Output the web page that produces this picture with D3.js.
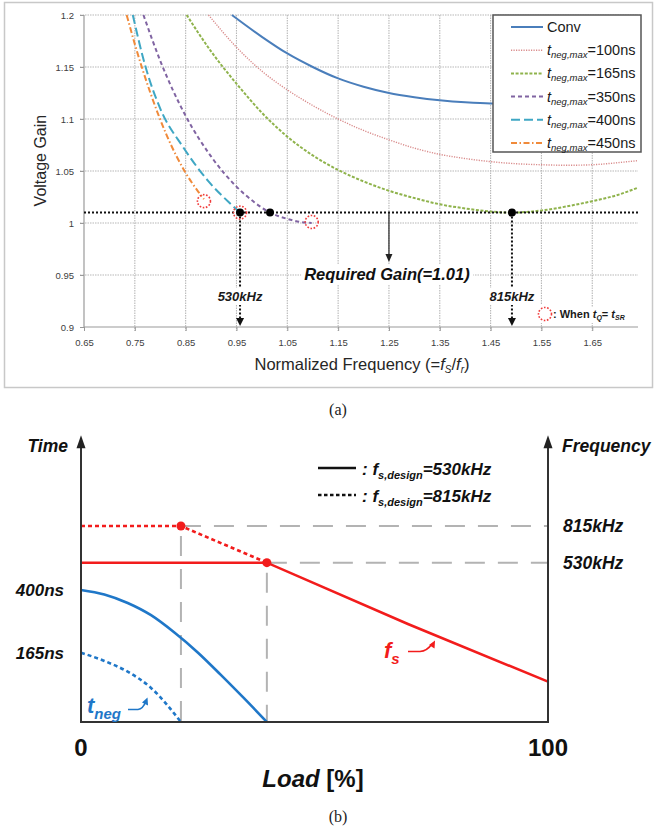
<!DOCTYPE html>
<html>
<head>
<meta charset="utf-8">
<script src="https://cdn.jsdelivr.net/npm/d3@7"></script>
<style>
  body { margin: 0; background: #fff; }
  svg { display: block; }
</style>
</head>
<body>
<svg id="fig" width="657" height="830"></svg>
<script>
// ---------------- Panel (a): voltage gain vs. normalized frequency ----------------
const freqTicks = [0.65, 0.75, 0.85, 0.95, 1.05, 1.15, 1.25, 1.35, 1.45, 1.55, 1.65];
const freqTickLabels = ["0.65", "0.75", "0.85", "0.95", "1.05", "1.15", "1.25", "1.35", "1.45", "1.55", "1.65"];
const gainTicks = [0.9, 0.95, 1, 1.05, 1.1, 1.15, 1.2];
const gainTickLabels = ["0.9", "0.95", "1", "1.05", "1.1", "1.15", "1.2"];

// [normalized frequency, voltage gain]
const convGain = [[0.941, 1.2], [1.0, 1.179], [1.05, 1.163], [1.1, 1.150], [1.15, 1.139], [1.2, 1.131],
  [1.25, 1.125], [1.3, 1.121], [1.35, 1.118], [1.4, 1.116], [1.45, 1.115], [1.5, 1.115]];
const gain100 = [[0.895, 1.2], [0.95, 1.169], [1.0, 1.146], [1.05, 1.128], [1.1, 1.113], [1.15, 1.100],
  [1.2, 1.089], [1.25, 1.080], [1.3, 1.072], [1.35, 1.066], [1.4, 1.062], [1.45, 1.059], [1.5, 1.057],
  [1.55, 1.056], [1.6, 1.0555], [1.65, 1.056], [1.7, 1.058], [1.74, 1.06]];
const gain165 = [[0.852, 1.2], [0.9, 1.165], [0.95, 1.134], [1.0, 1.106], [1.05, 1.083], [1.1, 1.065],
  [1.15, 1.051], [1.2, 1.040], [1.25, 1.031], [1.3, 1.024], [1.35, 1.018], [1.4, 1.014], [1.45, 1.011],
  [1.49, 1.010], [1.55, 1.012], [1.6, 1.016], [1.65, 1.021], [1.7, 1.027], [1.74, 1.034]];
const gain350 = [[0.767, 1.2], [0.8, 1.156], [0.85, 1.103], [0.9, 1.064], [0.95, 1.035], [0.985, 1.020],
  [1.016, 1.010], [1.05, 1.004], [1.075, 1.001], [1.098, 1.0]];
const gain400 = [[0.746, 1.2], [0.77, 1.152], [0.8, 1.11], [0.845, 1.073], [0.895, 1.04], [0.937, 1.019], [0.957, 1.01]];
const gain450 = [[0.734, 1.2], [0.75, 1.172], [0.78, 1.126], [0.813, 1.084], [0.849, 1.049], [0.875, 1.03], [0.886, 1.023]];

const legendNames = ["Conv", "100ns", "165ns", "350ns", "400ns", "450ns"];
const seriesColors = ["#4a7ebb", "#d98c8c", "#8fb34c", "#8064a2", "#3fa7c4", "#f08a3a"];
const seriesDash = [null, "1.2,1.3", "3,1.6", "4,3", "9,4", "6,2.5,1.5,2.5"];
const seriesWidth = [2, 1.4, 2, 2, 2, 2];
const gainSeries = [convGain, gain100, gain165, gain350, gain400, gain450];

const requiredGain = 1.01;
const designPoints = [[0.957, 1.01], [1.016, 1.01], [1.492, 1.01]];   // intersections with required gain
const tqEqualsTsr = [[0.886, 1.021], [0.957, 1.01], [1.098, 1.001]];  // t_Q = t_SR markers
const freqMarkers = [{ f: 0.957, label: "530kHz" }, { f: 1.492, label: "815kHz" }];

// ---------------- Panel (b): t_neg and f_s vs. load ----------------
const loadTicks = [0, 100];
// [load %, relative level on the schematic axis]
const tnegAt530 = [[0, 0.465], [5, 0.449], [10, 0.419], [15, 0.376], [20, 0.315], [25, 0.245],
  [30, 0.165], [35, 0.082], [39.8, 0]];
const tnegAt815 = [[0, 0.244], [5, 0.215], [10, 0.177], [15, 0.12], [21.4, 0]];
const fsAt530 = [[0, 0.561], [39.8, 0.561], [70, 0.345], [100, 0.142]];
const fsAt815 = [[0, 0.69], [21.4, 0.69], [39.8, 0.561]];
const timeTicks = [{ label: "400ns", level: 0.465 }, { label: "165ns", level: 0.244 }];
const freqLevels = [{ label: "815kHz", level: 0.69, knee: 21.4 }, { label: "530kHz", level: 0.561, knee: 39.8 }];

const svg = d3.select("#fig");
const FONT = "'Liberation Sans', Arial, sans-serif";

// =========================== Panel (a) ===========================
const pa = svg.append("g");
pa.append("rect").attr("x", 4.5).attr("y", 2.5).attr("width", 648).attr("height", 385)
  .attr("fill", "#fff").attr("stroke", "#c8c8c8").attr("stroke-width", 1.5);

const x = d3.scaleLinear().domain([0.65, 1.74]).range([84, 638]);
const y = d3.scaleLinear().domain([0.9, 1.2]).range([327, 15]);

pa.append("defs").append("clipPath").attr("id", "plotClip")
  .append("rect").attr("x", x(0.65)).attr("y", y(1.2) - 1).attr("width", x(1.74) - x(0.65)).attr("height", y(0.9) - y(1.2) + 1);

// grid
const grid = pa.append("g").attr("stroke", "#b8b8b8").attr("stroke-width", 1.1).attr("stroke-dasharray", "1.5,1");
grid.selectAll("line.v").data(freqTicks.slice(1)).join("line")
  .attr("x1", d => x(d)).attr("x2", d => x(d)).attr("y1", y(1.2)).attr("y2", y(0.9) + 4);
grid.selectAll("line.h").data(gainTicks.slice(1)).join("line")
  .attr("x1", x(0.65) - 4).attr("x2", x(1.74)).attr("y1", d => y(d)).attr("y2", d => y(d));

// axes
const axisX = d3.axisBottom(x).tickValues(freqTicks).tickFormat((d, i) => freqTickLabels[i]).tickSize(4).tickPadding(8);
const axisY = d3.axisLeft(y).tickValues(gainTicks).tickFormat((d, i) => gainTickLabels[i]).tickSize(4).tickPadding(6);
const gx = pa.append("g").attr("transform", `translate(0,${y(0.9)})`).call(axisX);
const gy = pa.append("g").attr("transform", `translate(${x(0.65)},0)`).call(axisY);
[gx, gy].forEach(g => {
  g.select(".domain").attr("stroke", "#9a9a9a").attr("stroke-width", 1.2);
  g.selectAll(".tick line").attr("stroke", "#9a9a9a");
  g.selectAll(".tick text").attr("font-family", FONT).attr("font-size", 9.5).attr("fill", "#404040");
});
gx.select(".domain").attr("d", `M${x(0.65)},0H${x(1.74)}`);
gy.select(".domain").attr("d", `M0,${y(0.9)}V${y(1.2)}`);

// axis titles
pa.append("text").attr("transform", `translate(40,${y(1.06)}) rotate(-90)`)
  .attr("text-anchor", "middle").attr("dominant-baseline", "central")
  .attr("font-family", FONT).attr("font-size", 16).attr("fill", "#262626").text("Voltage Gain");
const xt = pa.append("text").attr("x", 362).attr("y", 370).attr("text-anchor", "middle")
  .attr("font-family", FONT).attr("font-size", 16.5).attr("fill", "#262626");
xt.append("tspan").text("Normalized  Frequency  (=");
xt.append("tspan").attr("font-style", "italic").text("f");
xt.append("tspan").attr("font-style", "italic").attr("font-size", 10).attr("dy", 3).text("S");
xt.append("tspan").attr("dy", -3).text("/");
xt.append("tspan").attr("font-style", "italic").text("f");
xt.append("tspan").attr("font-style", "italic").attr("font-size", 10).attr("dy", 3).text("r");
xt.append("tspan").attr("dy", -3).text(")");

// gain curves
const line = d3.line().x(d => x(d[0])).y(d => y(d[1])).curve(d3.curveMonotoneX);
const curves = pa.append("g").attr("clip-path", "url(#plotClip)");
gainSeries.forEach((s, i) => {
  curves.append("path").datum(s).attr("d", line).attr("fill", "none")
    .attr("stroke", seriesColors[i]).attr("stroke-width", seriesWidth[i])
    .attr("stroke-dasharray", seriesDash[i]);
});

// required gain line
pa.append("line").attr("x1", x(0.65)).attr("x2", x(1.74)).attr("y1", y(requiredGain)).attr("y2", y(requiredGain))
  .attr("stroke", "#111").attr("stroke-width", 2).attr("stroke-dasharray", "2,2");

// small downward arrowhead
function arrowDown(g, cx, tipY, w, h, color) {
  g.append("path").attr("d", `M${cx - w / 2},${tipY - h}L${cx + w / 2},${tipY - h}L${cx},${tipY}Z`).attr("fill", color);
}
// white box behind a text element
function backWhite(g, textSel, pad) {
  const b = textSel.node().getBBox();
  g.insert("rect", () => textSel.node()).attr("x", b.x - pad).attr("y", b.y - 1).attr("width", b.width + 2 * pad)
    .attr("height", b.height + 2).attr("fill", "#fff");
}

// frequency drop lines
freqMarkers.forEach(m => {
  const gm = pa.append("g");
  gm.append("line").attr("x1", x(m.f)).attr("x2", x(m.f)).attr("y1", y(requiredGain)).attr("y2", y(0.9) - 7)
    .attr("stroke", "#111").attr("stroke-width", 2).attr("stroke-dasharray", "2,2");
  arrowDown(gm, x(m.f), y(0.9) - 1, 8, 8, "#111");
  const t = gm.append("text").attr("x", x(m.f)).attr("y", 301).attr("text-anchor", "middle")
    .attr("font-family", FONT).attr("font-weight", "bold").attr("font-style", "italic").attr("font-size", 13)
    .attr("fill", "#1a1a1a").text(m.label);
  backWhite(gm, t, 1);
});

// required gain annotation
const gr = pa.append("g");
gr.append("line").attr("x1", x(1.25)).attr("x2", x(1.25)).attr("y1", y(requiredGain)).attr("y2", 255)
  .attr("stroke", "#222").attr("stroke-width", 1.2);
arrowDown(gr, x(1.25), 262, 7, 8, "#222");
const rt = gr.append("text").attr("x", x(1.25) - 2).attr("y", 280).attr("text-anchor", "middle")
  .attr("font-family", FONT).attr("font-weight", "bold").attr("font-style", "italic").attr("font-size", 16.5)
  .attr("fill", "#111").text("Required Gain(=1.01)");
backWhite(gr, rt, 3);

// markers
pa.selectAll("circle.dp").data(designPoints).join("circle")
  .attr("cx", d => x(d[0])).attr("cy", d => y(d[1])).attr("r", 4).attr("fill", "#000");
pa.selectAll("circle.tq").data(tqEqualsTsr).join("circle")
  .attr("cx", d => x(d[0])).attr("cy", d => y(d[1])).attr("r", 6.5).attr("fill", "none")
  .attr("stroke", "#f03c3c").attr("stroke-width", 1.6).attr("stroke-dasharray", "1.6,1.6");

// note in lower right
const note = pa.append("g");
const nt = note.append("text").attr("x", 553).attr("y", 318).attr("font-family", FONT)
  .attr("font-weight", "bold").attr("font-size", 11).attr("fill", "#1a1a1a");
nt.append("tspan").text(": When ");
nt.append("tspan").attr("font-style", "italic").text("t");
nt.append("tspan").attr("font-style", "italic").attr("font-size", 7).attr("dy", 2).text("Q");
nt.append("tspan").attr("dy", -2).text("= ");
nt.append("tspan").attr("font-style", "italic").text("t");
nt.append("tspan").attr("font-style", "italic").attr("font-size", 7).attr("dy", 2).text("SR");
backWhite(note, nt, 1);
note.append("rect").attr("x", 536).attr("y", 305).attr("width", 17).attr("height", 18).attr("fill", "#fff");
note.append("circle").attr("cx", 545).attr("cy", 314).attr("r", 6.5).attr("fill", "none")
  .attr("stroke", "#f03c3c").attr("stroke-width", 1.6).attr("stroke-dasharray", "1.6,1.6");

// legend
const lg = pa.append("g");
lg.append("rect").attr("x", 493).attr("y", 15).attr("width", 148).attr("height", 137)
  .attr("fill", "#fff").attr("stroke", "#555").attr("stroke-width", 1.5);
legendNames.forEach((name, i) => {
  const ly = 27 + i * 23.2;
  lg.append("line").attr("x1", 511).attr("x2", 543).attr("y1", ly).attr("y2", ly)
    .attr("stroke", seriesColors[i]).attr("stroke-width", seriesWidth[i]).attr("stroke-dasharray", seriesDash[i]);
  const t = lg.append("text").attr("x", 547).attr("y", ly + 5).attr("font-family", FONT)
    .attr("font-size", 14.5).attr("fill", "#1a1a1a");
  if (i === 0) {
    t.text(name);
  } else {
    t.append("tspan").attr("font-style", "italic").text("t");
    t.append("tspan").attr("font-style", "italic").attr("font-size", 9.5).attr("dy", 3).text("neg,max");
    t.append("tspan").attr("dy", -3).text("=" + name);
  }
});

pa.append("text").attr("x", 338).attr("y", 415).attr("text-anchor", "middle")
  .attr("font-family", "'Liberation Serif', 'Times New Roman', serif").attr("font-size", 16).attr("fill", "#222").text("(a)");

// =========================== Panel (b) ===========================
const pb = svg.append("g");
const xb = d3.scaleLinear().domain([0, 100]).range([81, 548]);
const yb = d3.scaleLinear().domain([0, 1]).range([722, 438]);
const BI = g => g.attr("font-family", FONT).attr("font-weight", "bold").attr("font-style", "italic");

// guide lines
const guide = pb.append("g").attr("stroke", "#b3b3b3").attr("stroke-width", 2).attr("stroke-dasharray", "20,13");
freqLevels.forEach(f => {
  guide.append("line").attr("x1", xb(f.knee)).attr("x2", xb(100)).attr("y1", yb(f.level)).attr("y2", yb(f.level));
  guide.append("line").attr("x1", xb(f.knee)).attr("x2", xb(f.knee)).attr("y1", yb(f.level) + 10).attr("y2", yb(0));
});

// curves
const smoothB = d3.line().x(d => xb(d[0])).y(d => yb(d[1])).curve(d3.curveMonotoneX);
const straightB = d3.line().x(d => xb(d[0])).y(d => yb(d[1]));
pb.append("path").datum(tnegAt530).attr("d", smoothB).attr("fill", "none")
  .attr("stroke", "#1f77c8").attr("stroke-width", 2.6);
pb.append("path").datum(tnegAt815).attr("d", smoothB).attr("fill", "none")
  .attr("stroke", "#1f77c8").attr("stroke-width", 2.6).attr("stroke-dasharray", "4,3");
pb.append("path").datum(fsAt530).attr("d", straightB).attr("fill", "none")
  .attr("stroke", "#f21c1c").attr("stroke-width", 2.6);
pb.append("path").datum(fsAt815).attr("d", straightB).attr("fill", "none")
  .attr("stroke", "#f21c1c").attr("stroke-width", 2.6).attr("stroke-dasharray", "4,3");
pb.selectAll("circle.knee").data(freqLevels).join("circle")
  .attr("cx", d => xb(d.knee)).attr("cy", d => yb(d.level)).attr("r", 4.5).attr("fill", "#f21c1c");

// axes frame with arrows
const ax = pb.append("g").attr("stroke", "#333").attr("stroke-width", 2).attr("fill", "none");
ax.append("path").attr("d", `M${xb(0)},${yb(0.99)}V${yb(0)}H${xb(100)}V${yb(0.99)}`);
[0, 100].forEach(v => {
  pb.append("path").attr("d", `M${xb(v)},${yb(1.01)}l-4.5,13h9z`).attr("fill", "#222");
});

// axis labels
BI(pb.append("text")).attr("x", 68).attr("y", 452).attr("text-anchor", "end").attr("font-size", 17.5)
  .attr("fill", "#111").text("Time");
BI(pb.append("text")).attr("x", 562).attr("y", 452).attr("font-size", 17.5).attr("fill", "#111").text("Frequency");
timeTicks.forEach(t => {
  BI(pb.append("text")).attr("x", 64).attr("y", yb(t.level) + 6).attr("text-anchor", "end")
    .attr("font-size", 17).attr("fill", "#111").text(t.label);
});
freqLevels.forEach(f => {
  BI(pb.append("text")).attr("x", 563).attr("y", yb(f.level) + 6).attr("font-size", 17.5)
    .attr("fill", "#111").text(f.label);
});
loadTicks.forEach(v => {
  pb.append("text").attr("x", xb(v)).attr("y", 756).attr("text-anchor", "middle").attr("font-family", FONT)
    .attr("font-weight", "bold").attr("font-size", 24).attr("fill", "#111").text(v);
});
const lt = pb.append("text").attr("x", 313).attr("y", 787).attr("text-anchor", "middle").attr("font-family", FONT)
  .attr("font-weight", "bold").attr("font-size", 24).attr("fill", "#111");
lt.append("tspan").attr("font-style", "italic").text("Load");
lt.append("tspan").text(" [%]");

// legend
const lgb = pb.append("g");
lgb.append("line").attr("x1", 318).attr("x2", 356).attr("y1", 468).attr("y2", 468).attr("stroke", "#111").attr("stroke-width", 2.6);
lgb.append("line").attr("x1", 318).attr("x2", 356).attr("y1", 495).attr("y2", 495).attr("stroke", "#111").attr("stroke-width", 2.6)
  .attr("stroke-dasharray", "3.5,2.5");
["530kHz", "815kHz"].forEach((v, i) => {
  const t = BI(lgb.append("text")).attr("x", 362).attr("y", 475 + i * 27).attr("font-size", 17).attr("fill", "#111");
  t.append("tspan").text(": f");
  t.append("tspan").attr("font-size", 11).attr("dy", 4).text("s,design");
  t.append("tspan").attr("dy", -4).text("=" + v);
});

// series labels with hooked arrows
const tl = BI(pb.append("text")).attr("x", 87).attr("y", 713).attr("font-size", 22).attr("fill", "#1f77c8");
tl.append("tspan").text("t");
tl.append("tspan").attr("font-size", 15).attr("dy", 6).text("neg");
pb.append("path").attr("d", "M128,709.5 L138,709.5 Q143,709 146,701").attr("fill", "none")
  .attr("stroke", "#1f77c8").attr("stroke-width", 1.6);
pb.append("path").attr("d", "M147.5,697.5 l0.5,8 l-6,-3z").attr("fill", "#1f77c8");

const fl = BI(pb.append("text")).attr("x", 384).attr("y", 658).attr("font-size", 22).attr("fill", "#f21c1c");
fl.append("tspan").text("f");
fl.append("tspan").attr("font-size", 15).attr("dy", 6).text("s");
pb.append("path").attr("d", "M408,651.5 L420,651.5 Q427,651 432,644").attr("fill", "none")
  .attr("stroke", "#f21c1c").attr("stroke-width", 1.6);
pb.append("path").attr("d", "M435,640.5 l-0.5,8 l-5.5,-3.5z").attr("fill", "#f21c1c");

pb.append("text").attr("x", 338).attr("y", 822).attr("text-anchor", "middle")
  .attr("font-family", "'Liberation Serif', 'Times New Roman', serif").attr("font-size", 16).attr("fill", "#222").text("(b)");
</script>
</body>
</html>
